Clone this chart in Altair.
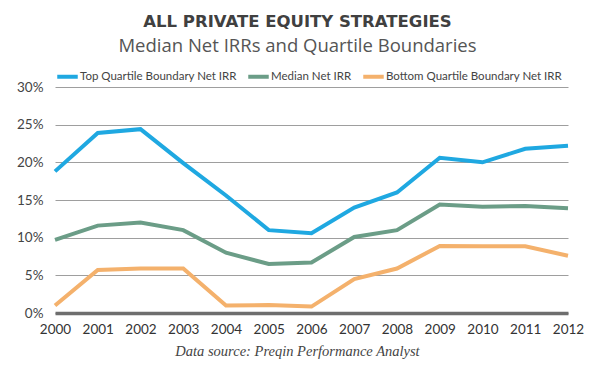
import altair as alt
import pandas as pd

years = list(range(2000, 2013))
top_quartile = [18.8, 23.9, 24.4, 19.9, 15.6, 11.0, 10.6, 14.0, 16.0, 20.6, 20.0, 21.8, 22.2]
median = [9.7, 11.6, 12.0, 11.0, 8.0, 6.5, 6.7, 10.1, 11.0, 14.4, 14.1, 14.2, 13.9]
bottom_quartile = [1.0, 5.7, 5.9, 5.9, 1.0, 1.05, 0.85, 4.5, 5.9, 8.9, 8.85, 8.85, 7.6]
y_ticks = [0, 5, 10, 15, 20, 25, 30]

series_names = ["Top Quartile Boundary Net IRR", "Median Net IRR", "Bottom Quartile Boundary Net IRR"]
series_colors = ["#1fa8e1", "#6b9d87", "#f4b16c"]

rows = []
for name, vals in zip(series_names, [top_quartile, median, bottom_quartile]):
    for y, v in zip(years, vals):
        rows.append({"year": y, "value": v, "series": name})
df = pd.DataFrame(rows)

label_font = "Lato"

chart = alt.Chart(df).mark_line(strokeWidth=4, strokeCap="butt", strokeJoin="miter").encode(
    x=alt.X("year:Q",
            scale=alt.Scale(domain=[2000, 2012], nice=False, zero=False),
            axis=alt.Axis(values=years, tickCount=13, format="d", grid=False,
                          domain=True, domainColor="#6e6e6e", domainWidth=3.5,
                          ticks=False, labelOverlap=False, labelFlush=False,
                          labelPadding=9, labelFontSize=13.5, labelColor="#333333", labelFont=label_font,
                          title="Data source: Preqin Performance Analyst",
                          titleFont="Liberation Serif", titleFontStyle="italic", titleFontWeight="normal",
                          titleFontSize=14.5, titleColor="#444444",
                          titleX=242, titleY=38, titleBaseline="middle", titleAlign="center")),
    y=alt.Y("value:Q",
            scale=alt.Scale(domain=[0, 30], nice=False),
            axis=alt.Axis(values=y_ticks, tickCount=7, labelExpr="datum.value + '%'",
                          grid=True, gridColor="#9e9e9e", gridWidth=1, domain=False, ticks=False,
                          labelOverlap=False,
                          labelPadding=12, labelFontSize=13.5, labelColor="#444444", labelFont=label_font,
                          title=None)),
    color=alt.Color("series:N",
                    scale=alt.Scale(domain=series_names, range=series_colors),
                    sort=series_names,
                    legend=alt.Legend(orient="none", legendX=0, legendY=-23, direction="horizontal",
                                      title=None, symbolType="stroke", symbolStrokeWidth=4,
                                      symbolSize=420, labelFont=label_font, labelFontSize=11.5,
                                      labelLimit=400,
                                      labelColor="#444444", labelOffset=0, columnPadding=3,
                                      symbolOffset=0)),
).properties(
    width=513,
    height=226,
    padding={"left": 47, "top": 79, "right": 24, "bottom": 54},
    autosize=alt.AutoSizeParams(type="none"),
    title=alt.TitleParams(
        text="ALL PRIVATE EQUITY STRATEGIES",
        subtitle="Median Net IRRs and Quartile Boundaries",
        anchor="middle",
        dx=-14,
        font="DejaVu Sans",
        fontSize=16.5,
        fontWeight="bold",
        color="#404040",
        subtitleFont="Open Sans",
        subtitleFontSize=18.5,
        subtitleColor="#555555",
        subtitlePadding=6,
        offset=9,
    ),
).configure_view(stroke=None)

chart.save("out.html", embed_options={"renderer": "svg", "actions": False})
